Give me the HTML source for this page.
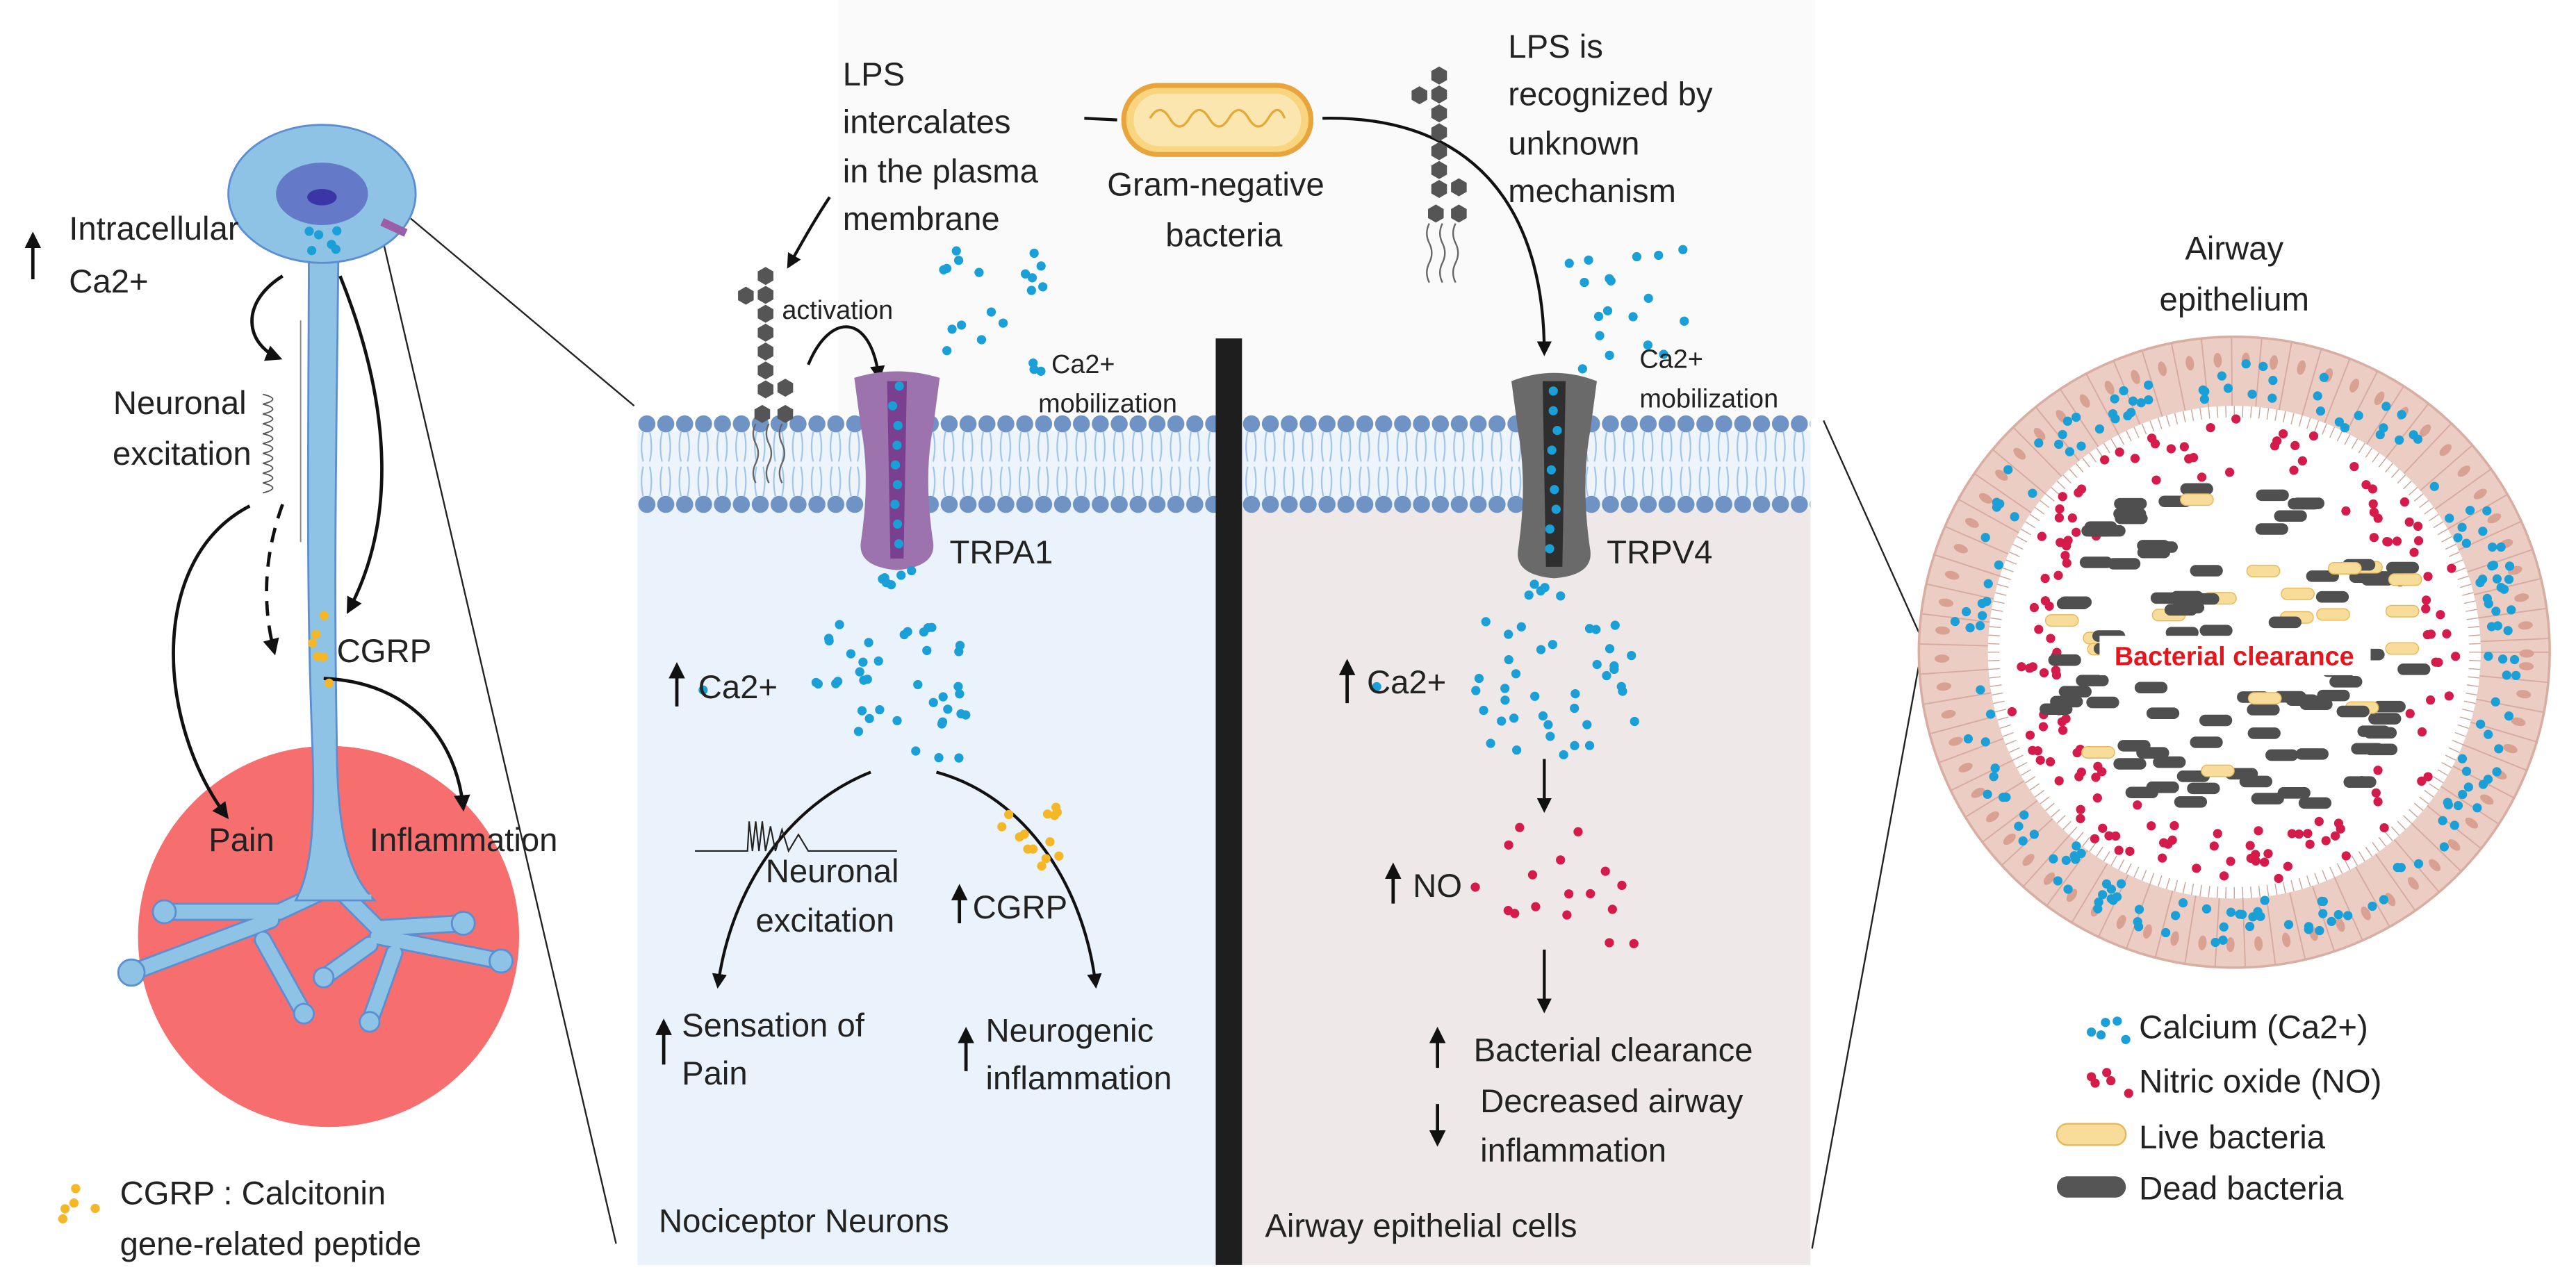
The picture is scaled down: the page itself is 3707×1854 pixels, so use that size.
<!DOCTYPE html>
<html><head><meta charset="utf-8"><style>
html,body{margin:0;padding:0;background:#fff;}
svg{display:block;}
text{font-family:"Liberation Sans",Arial,sans-serif;fill:#222;}
</style></head><body>
<svg id="s" width="3707" height="1854" viewBox="0 0 1568 784" preserveAspectRatio="none" xmlns="http://www.w3.org/2000/svg">
<defs>
<marker id="ah" viewBox="0 0 10 10" refX="8" refY="5" markerWidth="5" markerHeight="5" orient="auto"><path d="M0,0 L10,5 L0,10 z" fill="#111"/></marker>
<pattern id="mem" x="388" y="0" width="11.5" height="784" patternUnits="userSpaceOnUse">
<path d="M3.5,263 q-2,9 0,18 M7.5,263 q2,9 0,18 M3.5,284 q-2,9 0,18 M7.5,284 q2,9 0,18" stroke="#9ec4ec" stroke-width="0.9" fill="none"/>
<circle cx="5.75" cy="258" r="5.2" fill="#6f93c4"/>
<circle cx="5.75" cy="307" r="5.2" fill="#6f93c4"/>
</pattern>
</defs>
<rect x="510" y="0" width="595" height="255" fill="#fafafa"/>
<rect x="388" y="262" width="355" height="508" fill="#eaf2fc"/>
<rect x="750" y="262" width="352" height="508" fill="#efe8e8"/>
<rect x="388" y="262" width="714" height="48" fill="#eef4fb"/>
<rect x="388" y="250" width="714" height="64" fill="url(#mem)"/>
<rect x="740" y="206" width="16" height="564" fill="#1e1e1e"/>
<g stroke="#222" stroke-width="1" fill="none">
<line x1="250" y1="133" x2="386" y2="247"/><line x1="233" y1="146" x2="375" y2="757"/>
<line x1="1110" y1="256" x2="1168" y2="385"/><line x1="1168" y1="405" x2="1103" y2="760"/>
</g>
<!-- neuron -->
<circle cx="200" cy="570" r="116" fill="#f76e6f"/>
<g fill="none" stroke-linecap="round" stroke-linejoin="round">
<g stroke="#5b8fd2" stroke-width="11">
<path d="M202,540 L170,555 L100,555"/><path d="M165,560 L80,592"/><path d="M160,572 L185,617"/>
<path d="M205,540 L230,565 L282,562"/><path d="M230,570 L305,585"/><path d="M225,575 L197,595"/><path d="M240,580 L225,622"/>
</g>
<g stroke="#8ec3e6" stroke-width="8.6">
<path d="M202,540 L170,555 L100,555"/><path d="M165,560 L80,592"/><path d="M160,572 L185,617"/>
<path d="M205,540 L230,565 L282,562"/><path d="M230,570 L305,585"/><path d="M225,575 L197,595"/><path d="M240,580 L225,622"/>
</g>
</g>
<g fill="#8ec3e6" stroke="#5b8fd2" stroke-width="1.2">
<circle cx="100" cy="555" r="7"/><circle cx="80" cy="592" r="8"/><circle cx="185" cy="617" r="6"/>
<circle cx="282" cy="562" r="7"/><circle cx="305" cy="585" r="7"/><circle cx="197" cy="595" r="6"/><circle cx="225" cy="622" r="6"/>
<path d="M188,150 C188,250 186,350 190,450 C192,500 190,530 180,548 L228,548 C210,530 205,500 205,450 C203,350 205,250 206,150 Z"/>
<ellipse cx="196" cy="118" rx="57" ry="42"/>
</g>
<path d="M182,546 L226,546" stroke="#8ec3e6" stroke-width="3"/>
<ellipse cx="196" cy="118" rx="28" ry="19" fill="#6479c8"/>
<ellipse cx="196" cy="120" rx="9" ry="5" fill="#3b36a6"/>
<rect x="232" y="136" width="16" height="5" fill="#9a5fa8" transform="rotate(25 240 138)"/>
<g stroke="#111" stroke-width="2" fill="none" marker-end="url(#ah)">
<path d="M172,168 C145,185 150,210 170,218"/>
<path d="M207,168 C240,250 240,320 212,372"/>
<path d="M152,308 C90,340 95,440 138,497"/>
<path d="M197,413 C250,415 278,450 282,492"/>
</g>
<path d="M172,307 C160,340 160,370 167,397" stroke="#111" stroke-width="2" fill="none" stroke-dasharray="9,6" marker-end="url(#ah)"/>
<path d="M183,195 L183,330" stroke="#888" stroke-width="0.8" fill="none"/>
<path d="M160,240 q12,3 0,6 q12,3 0,6 q12,3 0,6 q12,3 0,6 q12,3 0,6 q12,3 0,6 q12,3 0,6 q12,3 0,6 q12,3 0,6 q12,3 0,6" stroke="#555" stroke-width="0.8" fill="none"/>
<g stroke="#111" stroke-width="1.8" fill="none" marker-end="url(#ah)">
<path d="M505,120 C495,135 488,148 480,162"/>
<path d="M492,222 C505,190 530,190 535,230"/>
<path d="M805,72 C900,70 940,130 940,215"/>
<line x1="940" y1="462" x2="940" y2="493"/>
<line x1="940" y1="578" x2="940" y2="615"/>
</g>
<path d="M530,470 C480,490 445,540 437,600" stroke="#111" stroke-width="1.8" fill="none" marker-end="url(#ah)"/>
<path d="M570,470 C625,485 660,540 667,600" stroke="#111" stroke-width="1.8" fill="none" marker-end="url(#ah)"/>
<line x1="660" y1="72" x2="680" y2="73" stroke="#111" stroke-width="1.8"/>
<path d="M423,518 L455,518 L456,500 L458,518 L460,500 L462,518 L464,500 L466,518 L469,503 L472,518 L476,505 L480,518 L486,508 L492,518 L505,518 L546,518" stroke="#222" stroke-width="0.9" fill="none"/>
<rect x="684" y="52" width="114" height="42" rx="21" fill="#f8d57e" stroke="#e8a53c" stroke-width="3"/>
<rect x="690" y="57" width="102" height="32" rx="16" fill="#fbe6b0"/>
<path d="M700,72 q6,-10 12,0 q6,10 12,0 q6,-10 12,0 q6,10 12,0 q6,-10 12,0 q6,10 12,0 q6,-10 10,0" stroke="#e3aa3a" stroke-width="1.4" fill="none"/>
<path d="M520,230 Q546,222 572,230 L568,260 Q562,290 568,330 Q570,345 546,347 Q522,345 524,330 Q530,290 524,260 Z" fill="#9c73ad"/>
<path d="M540,232 L552,232 L550,340 L542,340 Z" fill="#7b3f8f"/>
<path d="M920,232 Q946,222 972,232 L968,262 Q962,295 968,335 Q970,350 946,352 Q922,350 924,335 Q930,295 924,262 Z" fill="#6a6a6a"/>
<path d="M939,232 L953,232 L951,345 L941,345 Z" fill="#2e2e2e"/>
<g id="lps1"></g>
<g id="dots"></g>
<g id="ring"></g>
<g font-size="20">
<text x="42" y="146">Intracellular</text><text x="42" y="178">Ca2+</text>
<text x="150" y="252" text-anchor="end">Neuronal</text><text x="153" y="283" text-anchor="end">excitation</text>
<text x="205" y="403">CGRP</text>
<text x="127" y="518">Pain</text><text x="225" y="518">Inflammation</text>
<text x="73" y="733">CGRP : Calcitonin</text><text x="73" y="764">gene-related peptide</text>
<text x="513" y="52">LPS</text><text x="513" y="81">intercalates</text><text x="513" y="111">in the plasma</text><text x="513" y="140">membrane</text>
<text x="740" y="119" text-anchor="middle">Gram-negative</text><text x="745" y="150" text-anchor="middle">bacteria</text>
<text x="918" y="35">LPS is</text><text x="918" y="64">recognized by</text><text x="918" y="94">unknown</text><text x="918" y="123">mechanism</text>
<text x="578" y="343">TRPA1</text><text x="978" y="343">TRPV4</text>
<text x="425" y="425">Ca2+</text><text x="832" y="422">Ca2+</text>
<text x="466" y="537">Neuronal</text><text x="460" y="567">excitation</text>
<text x="592" y="559">CGRP</text>
<text x="415" y="631">Sensation of</text><text x="415" y="660">Pain</text>
<text x="600" y="634">Neurogenic</text><text x="600" y="663">inflammation</text>
<text x="401" y="750">Nociceptor Neurons</text>
<text x="770" y="753">Airway epithelial cells</text>
<text x="860" y="546">NO</text>
<text x="897" y="646">Bacterial clearance</text>
<text x="901" y="677">Decreased airway</text><text x="901" y="707">inflammation</text>
<text x="1360" y="158" text-anchor="middle">Airway</text><text x="1360" y="189" text-anchor="middle">epithelium</text>
<text x="1302" y="632">Calcium (Ca2+)</text><text x="1302" y="665">Nitric oxide (NO)</text>
<text x="1302" y="699">Live bacteria</text><text x="1302" y="730">Dead bacteria</text>
</g>
<g font-size="16">
<text x="476" y="194">activation</text>
<text x="640" y="227">Ca2+</text><text x="632" y="251">mobilization</text>
<text x="998" y="224">Ca2+</text><text x="998" y="248">mobilization</text>
</g>
<g stroke="#111" stroke-width="2" marker-end="url(#ah)">
<line x1="20" y1="170" x2="20" y2="143"/>
<line x1="412" y1="430" x2="412" y2="405"/>
<line x1="820" y1="428" x2="820" y2="403"/>
<line x1="848" y1="550" x2="848" y2="527"/>
<line x1="584" y1="562" x2="584" y2="540"/>
<line x1="404" y1="648" x2="404" y2="622"/>
<line x1="588" y1="652" x2="588" y2="627"/>
<line x1="875" y1="650" x2="875" y2="627"/>
<line x1="875" y1="672" x2="875" y2="696"/>
</g>
<rect x="1252" y="684" width="42" height="13" rx="6.5" fill="#f8dc9a" stroke="#e6b85a"/>
<rect x="1252" y="716" width="42" height="13" rx="6.5" fill="#555"/>
</svg>
<script>
var s=12345;function r(){s=(s*16807)%2147483647;return s/2147483647;}
var NS="http://www.w3.org/2000/svg";
function el(p,t,a){var e=document.createElementNS(NS,t);for(var k in a)e.setAttribute(k,a[k]);p.appendChild(e);return e;}
var D=document.getElementById('dots'),R=document.getElementById('ring'),L=document.getElementById('lps1');
var B='#1a9fd6',RD='#d41b4a',Y='#f4b728';
function box(x,y,w,h,n,c){for(var i=0;i<n;i++)el(D,'circle',{cx:x+r()*w,cy:y+r()*h,r:2.8,fill:c});}
box(188,140,18,15,6,B);
box(555,150,80,80,20,B);box(536,340,20,22,6,B);box(495,378,100,85,40,B);
for(var i=0;i<9;i++)el(D,'circle',{cx:545+(r()-.5)*6,cy:235+i*12,r:2.8,fill:B});
box(955,150,75,75,18,B);box(930,345,25,20,5,B);box(898,378,100,85,38,B);
for(var i=0;i<9;i++)el(D,'circle',{cx:946+(r()-.5)*6,cy:238+i*12,r:2.8,fill:B});
box(915,500,85,75,16,RD);
box(607,490,40,40,14,Y);box(188,372,14,45,6,Y);
box(37,722,22,24,5,Y);
box(1270,617,26,18,5,B);box(1270,650,26,18,5,RD);
el(D,'circle',{cx:428,cy:420,r:2.8,fill:B});el(D,'circle',{cx:838,cy:418,r:2.8,fill:B});el(D,'circle',{cx:898,cy:540,r:2.8,fill:RD});
function lps(x,y0){var hx=function(cx,cy){var p='';for(var k=0;k<6;k++){var a=Math.PI/3*k+Math.PI/6;p+=(k?'L':'M')+(cx+5.5*Math.cos(a))+','+(cy+5.5*Math.sin(a));}el(L,'path',{d:p+'Z',fill:'#555'});};
for(var i=0;i<7;i++)hx(x,y0+i*11.5);hx(x-12,y0+12);hx(x+12,y0+68);hx(x+12,y0+84);hx(x-2,y0+84);
el(L,'path',{d:'M'+(x-6)+','+(y0+90)+' q-3,6 0,12 q3,6 0,12 q-3,6 0,12 M'+(x+2)+','+(y0+90)+' q-3,6 0,12 q3,6 0,12 q-3,6 0,12 M'+(x+10)+','+(y0+90)+' q-3,6 0,12 q3,6 0,12 q-3,6 0,12',stroke:'#666','stroke-width':1,fill:'none'});}
lps(466,168);lps(876,46);
var cx=1360,cy=397;
el(R,'circle',{cx:cx,cy:cy,r:192,fill:'#ebcdc4',stroke:'#d9aea2','stroke-width':1.5});
el(R,'circle',{cx:cx,cy:cy,r:150,fill:'#fff'});
for(var a=0;a<360;a+=5.5){var t=a*Math.PI/180;el(R,'line',{x1:cx+150*Math.cos(t),y1:cy+150*Math.sin(t),x2:cx+192*Math.cos(t),y2:cy+192*Math.sin(t),stroke:'#d6aa9e','stroke-width':0.8});
var t2=(a+2.75)*Math.PI/180;el(R,'ellipse',{cx:cx+178*Math.cos(t2),cy:cy+178*Math.sin(t2),rx:4.5,ry:2.5,fill:'#d9a192',transform:'rotate('+(a+2.75)+' '+(cx+178*Math.cos(t2))+' '+(cy+178*Math.sin(t2))+')'});}
for(var a=0;a<360;a+=2){var t=a*Math.PI/180;el(R,'line',{x1:cx+143*Math.cos(t),y1:cy+143*Math.sin(t),x2:cx+150*Math.cos(t),y2:cy+150*Math.sin(t),stroke:'#c9a49a','stroke-width':0.6});}
for(var i=0;i<170;i++){var t=r()*6.283,rr=152+r()*26;el(R,'circle',{cx:cx+rr*Math.cos(t),cy:cy+rr*Math.sin(t),r:2.8,fill:B});}
for(var i=0;i<150;i++){var t=r()*6.283,rr=108+r()*34;el(R,'circle',{cx:cx+rr*Math.cos(t),cy:cy+rr*Math.sin(t),r:2.8,fill:RD});}
for(var i=0;i<140;i++){var x=-115+r()*230,y=-105+r()*210;if(x*x/(118*118)+y*y/(112*112)>1)continue;var live=r()<0.2;
el(R,'rect',{x:cx+x-10,y:cy+y-3.5,width:20,height:7,rx:3.5,fill:live?'#f8dc9a':'#4f4f4f',stroke:live?'#e6b85a':'none','stroke-width':0.6});}
el(R,'rect',{x:1278,y:387,width:165,height:24,fill:'#fff'});
var tx=el(R,'text',{x:1360,y:405,'text-anchor':'middle','font-size':16,'font-weight':'bold',style:'fill:#e8141c'});tx.textContent='Bacterial clearance';
</script>
</body></html>
